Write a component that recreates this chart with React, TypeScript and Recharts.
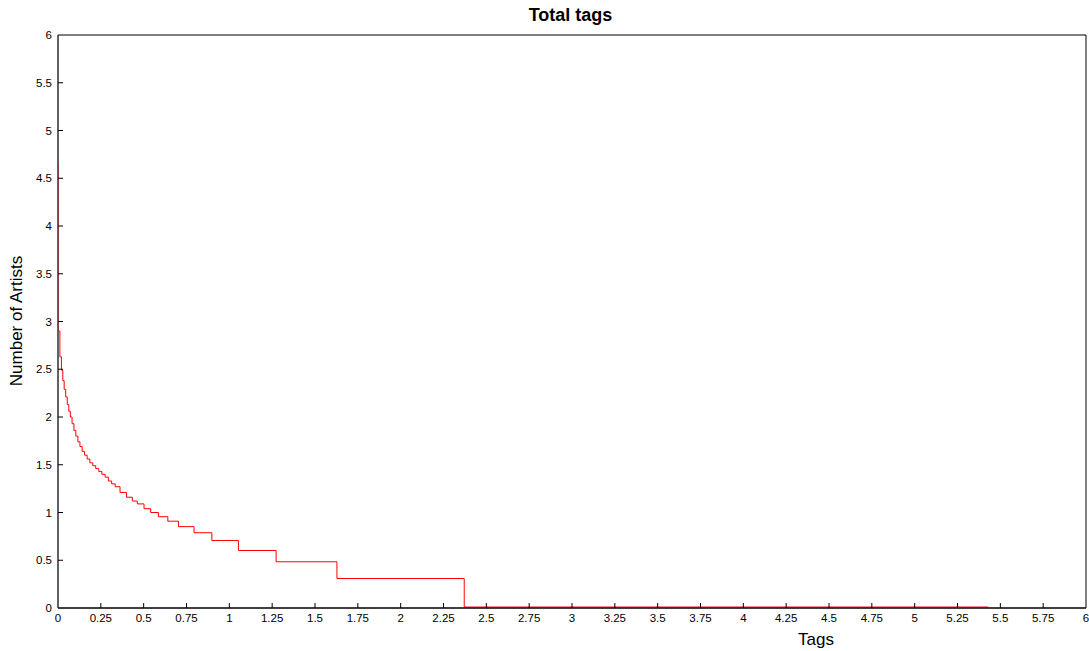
import { LineChart, Line, XAxis, YAxis, ReferenceArea } from 'recharts'

// step positions (tags) and levels (number of artists)
const tagSteps = [
  0, 0, 0.011, 0.02, 0.028, 0.036, 0.045, 0.054, 0.063, 0.072, 0.082, 0.093,
  0.104, 0.116, 0.128, 0.141, 0.155, 0.17, 0.186, 0.203, 0.22, 0.238, 0.256,
  0.275, 0.294, 0.313, 0.334, 0.362, 0.4, 0.434, 0.463, 0.502, 0.541, 0.586,
  0.641, 0.703, 0.794, 0.898, 1.053, 1.273, 1.628, 2.371, 5.43,
]
const artistLevels = [
  4.65, 2.9, 2.63, 2.49, 2.38, 2.29, 2.21, 2.13, 2.06, 2.0, 1.93, 1.86,
  1.8, 1.74, 1.69, 1.64, 1.6, 1.56, 1.52, 1.49, 1.46, 1.43, 1.4,
  1.37, 1.33, 1.3, 1.27, 1.21, 1.16, 1.12, 1.09, 1.04, 1.0, 0.956,
  0.909, 0.852, 0.788, 0.707, 0.602, 0.484, 0.309, 0.01, 0.01,
]

const xTicks = [0, 0.25, 0.5, 0.75, 1, 1.25, 1.5, 1.75, 2, 2.25, 2.5, 2.75, 3, 3.25, 3.5, 3.75, 4, 4.25, 4.5, 4.75, 5, 5.25, 5.5, 5.75, 6]
const yTicks = [0, 0.5, 1, 1.5, 2, 2.5, 3, 3.5, 4, 4.5, 5, 5.5, 6]

const data = tagSteps.map((t, i) => ({ tags: t, artists: artistLevels[i] }))

const FONT = '"Liberation Sans", Arial, Helvetica, sans-serif'

const XTick = ({ x, y, payload }: any) => (
  <g>
    {payload.value > 0 && payload.value < 6 && (
      <line x1={x} x2={x} y1={y} y2={y - 5} stroke="#000" />
    )}
    <text x={x} y={y + 14} textAnchor="middle" fontSize={11.5} fontFamily={FONT} fill="#000">
      {payload.value}
    </text>
  </g>
)

const YTick = ({ x, y, payload }: any) => (
  <g>
    {payload.value > 0 && payload.value < 6 && (
      <line x1={x} x2={x + 5} y1={y} y2={y} stroke="#000" />
    )}
    <text x={x - 6} y={y + 4} textAnchor="end" fontSize={11.5} fontFamily={FONT} fill="#000">
      {payload.value}
    </text>
  </g>
)

export default function App() {
  return (
    <div style={{ position: 'absolute', left: 0, top: 0, width: 1089, height: 651, background: '#fff' }}>
      <LineChart
        width={1089}
        height={651}
        data={data}
        margin={{ top: 35, right: 3, bottom: 0, left: 0 }}
      >
        <XAxis
          dataKey="tags"
          type="number"
          domain={[0, 6]}
          ticks={xTicks}
          interval={0}
          tickSize={0}
          tickMargin={0}
          tickLine={false}
          tick={<XTick />}
          axisLine={{ stroke: '#000' }}
          height={43}
          allowDataOverflow
        />
        <YAxis
          dataKey="artists"
          type="number"
          domain={[0, 6]}
          ticks={yTicks}
          interval={0}
          tickSize={0}
          tickMargin={0}
          tickLine={false}
          tick={<YTick />}
          axisLine={{ stroke: '#444' }}
          width={58}
          allowDataOverflow
        />
        <ReferenceArea x1={0} x2={6} y1={0} y2={6} fill="none" stroke="#000" strokeWidth={1} ifOverflow="visible" />
        <Line
          type="stepAfter"
          dataKey="artists"
          stroke="#ff0000"
          strokeWidth={1}
          dot={false}
          isAnimationActive={false}
        />
      </LineChart>
      <div style={{ position: 'absolute', left: 0, width: 1141, top: 5, textAlign: 'center', fontFamily: FONT, fontSize: 18, fontWeight: 'bold' }}>
        Total tags
      </div>
      <div style={{ position: 'absolute', left: 816, top: 630, transform: 'translateX(-50%)', fontFamily: FONT, fontSize: 17 }}>
        Tags
      </div>
      <div style={{ position: 'absolute', left: 17, top: 321, transform: 'translate(-50%, -50%) rotate(-90deg)', whiteSpace: 'nowrap', fontFamily: FONT, fontSize: 17 }}>
        Number of Artists
      </div>
    </div>
  )
}
